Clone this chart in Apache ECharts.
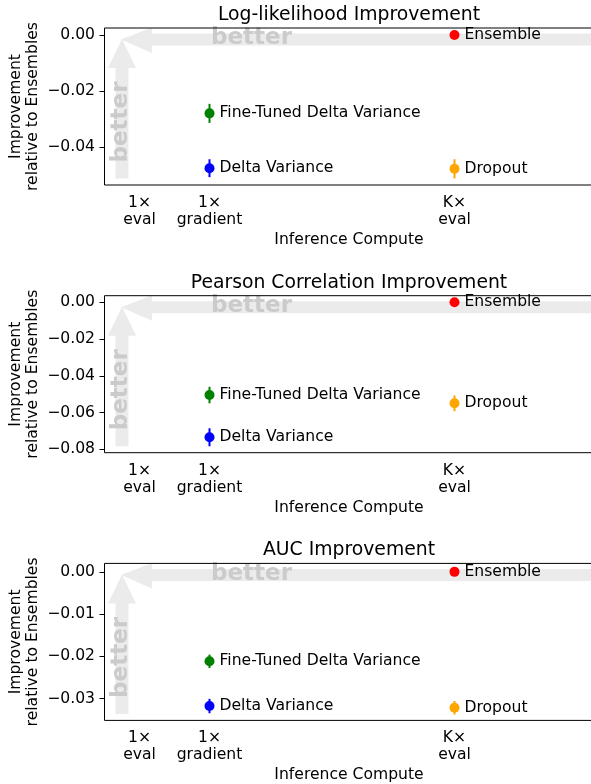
<!DOCTYPE html>
<html>
<head>
<meta charset="utf-8">
<script src="https://cdn.jsdelivr.net/npm/echarts@6/dist/echarts.min.js"></script>
<style>
  html, body { margin: 0; padding: 0; background: #fff; }
  #chart { width: 591px; height: 784px; }
</style>
</head>
<body>
<div id="chart"></div>
<script>
// methods, in drawing order
const methods = ['Ensemble', 'Dropout', 'Delta Variance', 'Fine-Tuned Delta Variance'];
const methodCompute = [5.5, 5.5, 2, 2];
const methodColors = ['#ff0000', '#ffa500', '#0000ff', '#008000'];

// x axis: inference compute
const computeTicks = [1, 2, 5.5];
const computeLabels = ['1×\neval', '1×\ngradient', 'K×\neval'];

// panel titles
const titles = ['Log-likelihood Improvement', 'Pearson Correlation Improvement', 'AUC Improvement'];

// improvement relative to ensembles (mean, error)
const llMean = [0, -0.0478, -0.0476, -0.0280];
const llErr = [0, 0.0034, 0.0032, 0.0034];
const pearsonMean = [0, -0.0550, -0.0735, -0.0505];
const pearsonErr = [0, 0.0043, 0.0049, 0.0045];
const aucMean = [0, -0.0322, -0.0318, -0.0212];
const aucErr = [0, 0.0016, 0.0017, 0.0016];

// y ticks and ranges
const llTicks = [0, -0.02, -0.04];
const pearsonTicks = [0, -0.02, -0.04, -0.06, -0.08];
const aucTicks = [0, -0.01, -0.02, -0.03];
const llRange = [-0.0536, 0.0025];
const pearsonRange = [-0.0819, 0.0036];
const aucRange = [-0.0352, 0.0020];

const panels = [
  { mean: llMean, err: llErr, ticks: llTicks, range: llRange },
  { mean: pearsonMean, err: pearsonErr, ticks: pearsonTicks, range: pearsonRange },
  { mean: aucMean, err: aucErr, ticks: aucTicks, range: aucRange },
];

const FONT = 'DejaVu Sans';
const FS = 15.6;
const GRID_LEFT = 104.5;
const GRID_W = 500;          // runs past the right edge, as in the original crop
const AXES_CENTER = 349;     // centre of the original (cropped) axes
const PX_PER_UNIT = 70;
const GRID_H = 157;
const GRID_TOPS = [28, 295.7, 563.4];
const ARROW = '#ebebeb';
const BETTER = '#cbcbcb';

const fmtY = v => (v < 0 ? '\u2212' : '') + Math.abs(v).toFixed(2);
const fmtX = v => {
  const i = computeTicks.findIndex(t => Math.abs(t - v) < 1e-6);
  return i >= 0 ? computeLabels[i] : '';
};

const grid = [], xAxis = [], yAxis = [], title = [], series = [], graphic = [];
const nameShift = 2 * (GRID_LEFT + GRID_W / 2 - AXES_CENTER);

panels.forEach((p, i) => {
  const top = GRID_TOPS[i];
  grid.push({
    left: GRID_LEFT, top: top, width: GRID_W, height: GRID_H,
    outerBoundsMode: 'none', containLabel: false,
    show: true, borderColor: '#000', borderWidth: 1,
    backgroundColor: 'transparent', z: 3
  });
  title.push({
    text: titles[i],
    left: AXES_CENTER,
    top: top - 24,
    textAlign: 'center',
    padding: 0,
    textStyle: { fontFamily: FONT, fontSize: 18.8, fontWeight: 'normal', color: '#000', lineHeight: 22 }
  });
  xAxis.push({
    gridIndex: i, type: 'value', min: 0.5, max: 0.5 + GRID_W / PX_PER_UNIT,
    name: 'Inference Compute', nameLocation: 'middle', nameGap: 47, nameMoveOverlap: false,
    nameTextStyle: { fontFamily: FONT, fontSize: FS, color: '#000', padding: [0, nameShift, 0, 0] },
    axisLine: { show: false },
    splitLine: { show: false },
    axisTick: { show: true, length: 5, customValues: computeTicks, lineStyle: { color: '#000', width: 1 } },
    axisLabel: {
      customValues: computeTicks, formatter: fmtX, margin: 9.5,
      fontFamily: FONT, fontSize: FS, color: '#000', lineHeight: 17
    }
  });
  yAxis.push({
    gridIndex: i, type: 'value', min: p.range[0], max: p.range[1],
    name: 'Improvement\nrelative to Ensembles', nameLocation: 'middle', nameGap: 63, nameMoveOverlap: false,
    nameTextStyle: { fontFamily: FONT, fontSize: FS, color: '#000', lineHeight: 16.8 },
    axisLine: { show: false },
    splitLine: { show: false },
    axisTick: { show: true, length: 5, customValues: p.ticks, lineStyle: { color: '#000', width: 1 } },
    axisLabel: {
      customValues: p.ticks, formatter: fmtY, margin: 9.5,
      fontFamily: FONT, fontSize: FS, color: '#000'
    }
  });

  // error bars
  series.push({
    type: 'custom', xAxisIndex: i, yAxisIndex: i, z: 2,
    data: methods.map((m, k) => [methodCompute[k], p.mean[k], p.err[k], k]),
    renderItem: (params, api) => {
      const x = api.value(0), y = api.value(1), e = api.value(2);
      if (!e) return null;
      const a = api.coord([x, y - e]), b = api.coord([x, y + e]);
      return {
        type: 'line',
        shape: { x1: a[0], y1: a[1], x2: b[0], y2: b[1] },
        style: { stroke: methodColors[api.value(3)], lineWidth: 2 }
      };
    }
  });
  // points with labels
  series.push({
    type: 'scatter', xAxisIndex: i, yAxisIndex: i, z: 3,
    symbol: 'circle', symbolSize: 10,
    data: methods.map((m, k) => ({
      name: m, value: [methodCompute[k], p.mean[k]],
      itemStyle: { color: methodColors[k], opacity: 1 }
    })),
    label: {
      show: true, position: 'right', distance: 5,
      formatter: d => d.name,
      fontFamily: FONT, fontSize: FS, color: '#000'
    }
  });

  // "better" arrows (axes-fraction decorations)
  const L = GRID_LEFT, R = GRID_LEFT + GRID_W, B = top + GRID_H;
  const ty = top + 11.5, tx = L + 16.5;
  graphic.push({
    type: 'polygon', z: 1, silent: true,
    shape: { points: [
      [tx, ty], [tx + 31, ty - 12], [tx + 31, ty - 6], [R, ty - 6],
      [R, ty + 6], [tx + 31, ty + 6], [tx + 31, ty + 13.5]
    ] },
    style: { fill: ARROW }
  });
  const vx = L + 17.5, vy = top + 11;
  graphic.push({
    type: 'polygon', z: 1, silent: true,
    shape: { points: [
      [vx, vy], [vx + 14, vy + 29], [vx + 6.5, vy + 29], [vx + 6.5, B - 6.5],
      [vx - 6.5, B - 6.5], [vx - 6.5, vy + 29], [vx - 14, vy + 29]
    ] },
    style: { fill: ARROW }
  });
  graphic.push({
    type: 'text', z: 1, silent: true, x: L + 106.5, y: top + 10.5,
    style: { text: 'better', fill: BETTER, font: 'bold 23px "DejaVu Sans"', align: 'left', verticalAlign: 'middle' }
  });
  graphic.push({
    type: 'text', z: 1, silent: true, x: L + 16.5, y: top + 94, rotation: Math.PI / 2,
    style: { text: 'better', fill: BETTER, font: 'bold 23px "DejaVu Sans"', align: 'center', verticalAlign: 'middle' }
  });
});

const chart = echarts.init(document.getElementById('chart'), null, { renderer: 'canvas' });
chart.setOption({
  animation: false,
  backgroundColor: '#fff',
  title: title,
  grid: grid,
  xAxis: xAxis,
  yAxis: yAxis,
  series: series,
  graphic: graphic
});
</script>
</body>
</html>
